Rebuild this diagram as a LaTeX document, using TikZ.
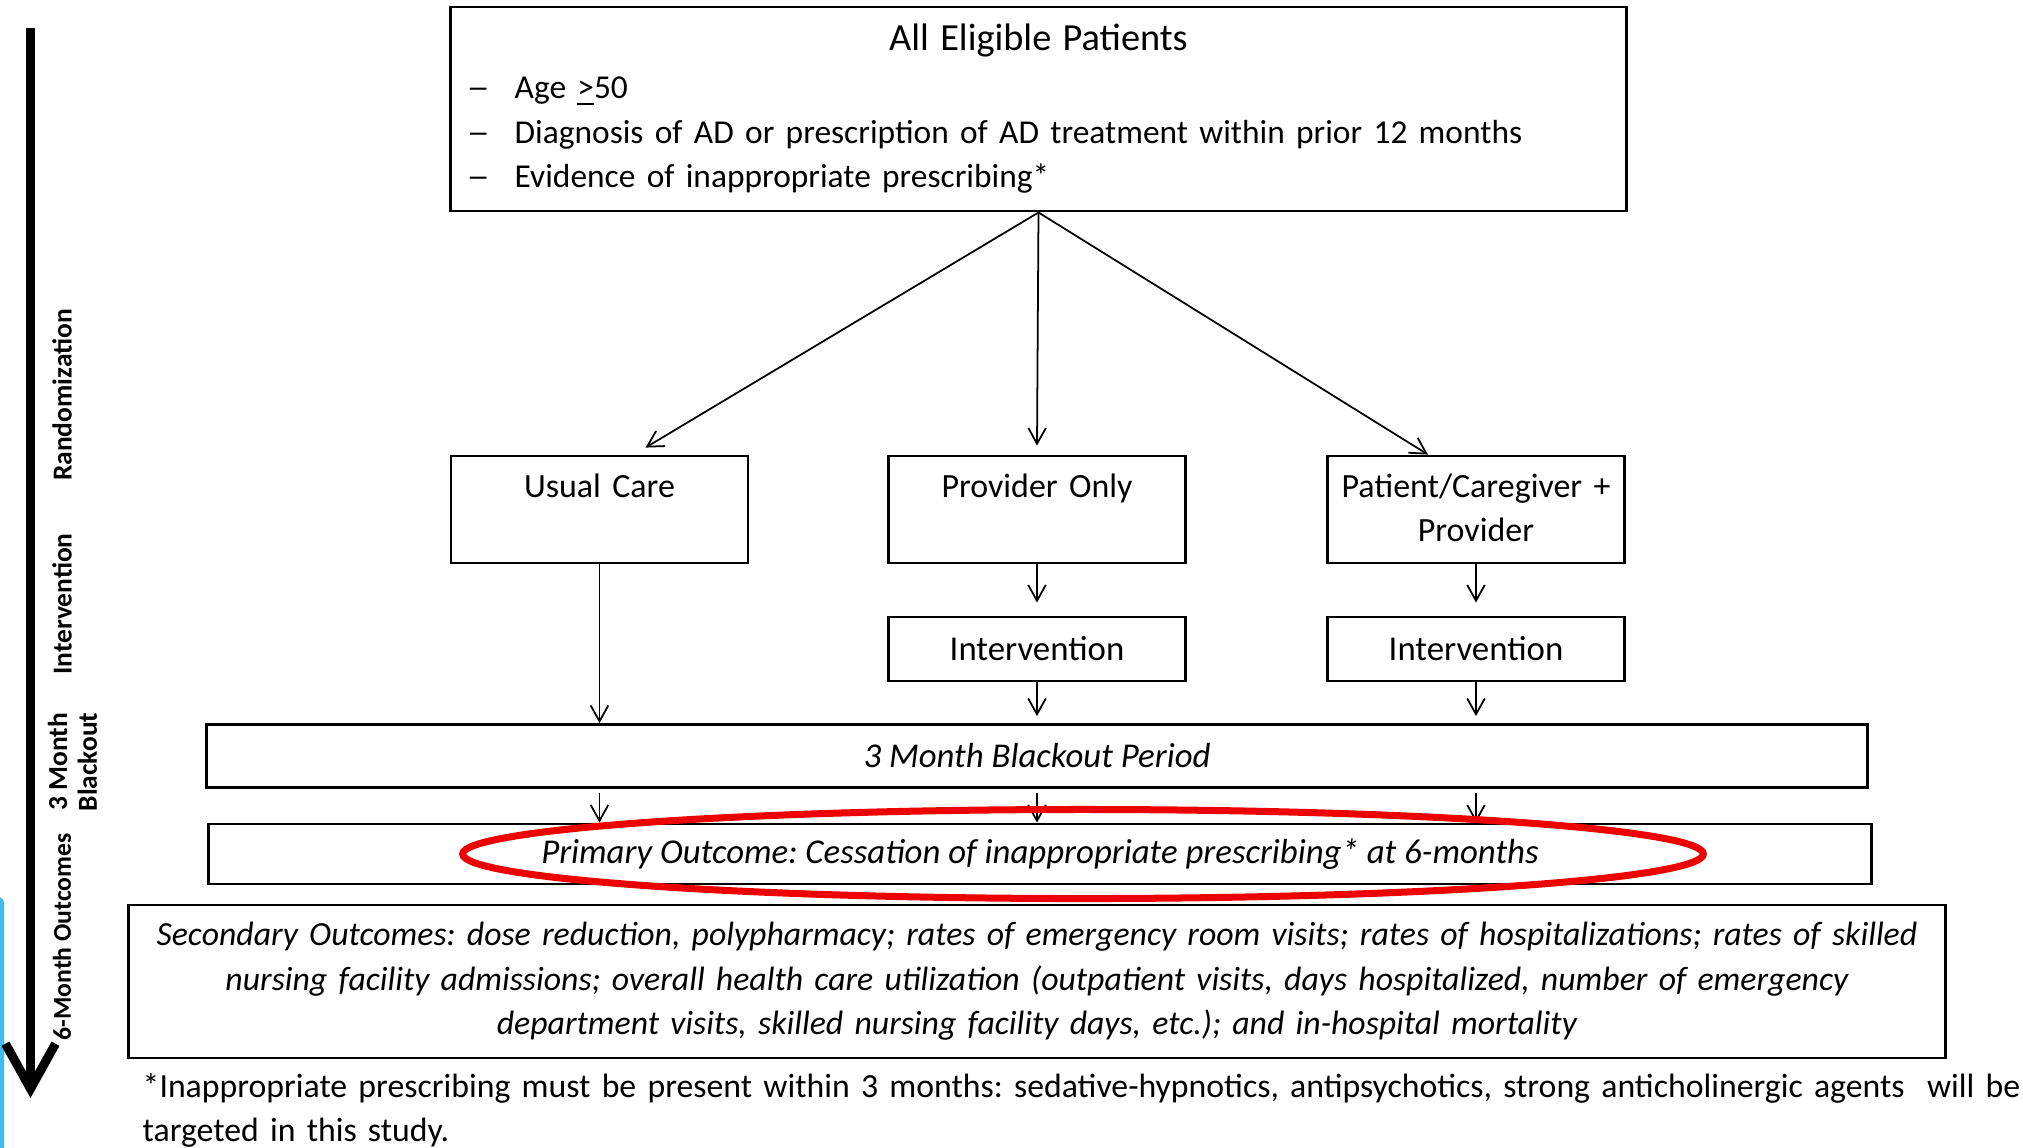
\documentclass[tikz,border=0pt]{standalone}
\usepackage{fontspec}
\setmainfont{Carlito}
\usepackage{tikz}
\usetikzlibrary{arrows.meta}
\definecolor{ringred}{RGB}{236,0,0}
\definecolor{slideblue}{RGB}{66,186,236}
\newcommand{\critdash}{\makebox[0.48cm][l]{\scalebox{1.4}[1]{--}}}

\begin{document}
\frenchspacing
\begin{tikzpicture}[x=0.01cm, y=-0.01cm,
    box/.style={draw, line width=0.8pt, inner sep=0pt, align=center},
    arm/.style={box, text width=2.97cm, text height=11.7pt, text depth=18.74pt},
    intbox/.style={box, text width=2.97cm, minimum height=0.64cm, font=\fontsize{9.9}{12.66}\selectfont},
    band/.style={box, minimum height=0.63cm, font=\fontsize{9.9}{12.66}\selectfont\itshape},
    arr/.style={-{Straight Barb[length=4.5pt,width=5pt]}, line width=0.5pt},
    phase/.style={rotate=90, align=center, font=\fontsize{7.8}{8.5}\selectfont\bfseries}]
    \useasboundingbox (0,0) rectangle (2023,1147);
    \fontsize{9.65}{12.66}\selectfont

    % Slide edge
    \fill[slideblue, rounded corners=0.06cm] (-6,1160) rectangle (4,897);

    % Timeline
    \draw[line width=0.09cm, -{Straight Barb[length=0.45cm,width=0.5cm]}] (30.5,28) -- (30.5,1098);
    \node[phase] (randlbl) at (62,395) {Randomization};
    \node[phase] (intlbl) at (62,604) {Intervention};
    \node[phase] (blacklbl) at (72.5,762) {3 Month\\Blackout};
    \node[phase, font=\fontsize{7.3}{8.5}\selectfont\bfseries] (outlbl) at (62,937) {6-Month Outcomes};

    % Boxes
    \node[box, align=left, text width=11.43cm, inner xsep=0.16cm, minimum height=2.04cm] (eligible) at (1038.5,109)
        {\centering{\fontsize{10.9}{13}\selectfont All Eligible Patients}\par\vspace{1pt}
         \raggedright\fontsize{9.5}{12.66}\selectfont
         \critdash Age \underline{>}50\par
         \critdash Diagnosis of AD or prescription of AD treatment within prior 12 months\par
         \critdash Evidence of inappropriate prescribing*};
    \node[arm] (usual) at (599.5,509.5) {Usual Care};
    \node[arm] (provider) at (1037,509.5) {Provider Only};
    \node[arm] (patient) at (1476,509.5) {Patient/Caregiver +\\Provider};
    \node[intbox] (intprov) at (1037,649) {Intervention};
    \node[intbox] (intpat) at (1476,649) {Intervention};
    \node[band, minimum width=16.60cm] (blackout) at (1037,756) {3 Month Blackout Period};
    \node[band, minimum width=16.62cm, minimum height=0.60cm] (primary) at (1040,854)
        {Primary Outcome: Cessation of inappropriate prescribing* at 6-months};
    \node[box, font=\fontsize{9.6}{12.66}\selectfont\itshape, text width=17.9cm, inner xsep=0.13cm, minimum height=1.53cm] (secondary) at (1037,981.5)
        {Secondary Outcomes: dose reduction, polypharmacy; rates of emergency room visits; rates of hospitalizations; rates of skilled\\
         nursing facility admissions; overall health care utilization (outpatient visits, days hospitalized, number of emergency\\
         department visits, skilled nursing facility days, etc.); and in-hospital mortality};
    \node[anchor=base west, align=left, text width=19cm, inner sep=0pt, font=\fontsize{9.6}{12.66}\selectfont] (footnote) at (142,1097)
        {*Inappropriate prescribing must be present within 3 months: sedative-hypnotics, antipsychotics, strong anticholinergic agents~ will be\\
         targeted in this study.};

    % Arrows
    \draw[arr] (eligible.south) -- ([xshift=0.46cm,yshift=0.07cm]usual.north);
    \draw[arr] (eligible.south) -- ([yshift=0.09cm]provider.north);
    \draw[arr] (eligible.south) -- ([xshift=-0.48cm]patient.north);
    \draw[arr] (usual.south) -- (usual.south |- blackout.north);
    \draw[arr] (provider.south) -- ([yshift=0.13cm]intprov.north);
    \draw[arr] (patient.south) -- ([yshift=0.13cm]intpat.north);
    \draw[arr, shorten >=0.07cm] (intprov.south) -- (intprov.south |- blackout.north);
    \draw[arr, shorten >=0.07cm] (intpat.south) -- (intpat.south |- blackout.north);
    \foreach \arm in {usual,intprov,intpat}
        \draw[arr, shorten <=0.04cm] (blackout.south -| \arm.south) -- (primary.north -| \arm.south);

    % Highlight
    \draw[ringred, line width=0.07cm] (1083,854) ellipse [x radius=6.2cm, y radius=0.445cm];
\end{tikzpicture}
\end{document}
